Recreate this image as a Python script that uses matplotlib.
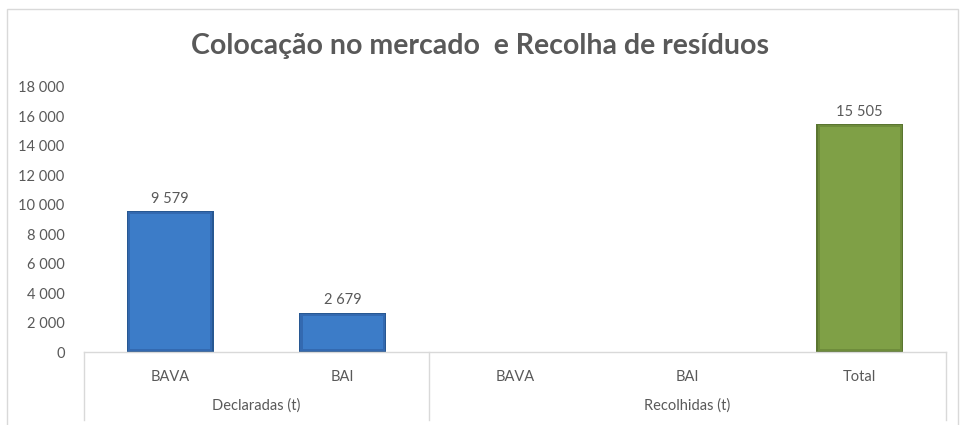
import numpy as np
import matplotlib
matplotlib.use("Agg")
import matplotlib.pyplot as plt
import matplotlib.transforms as mtransforms
from matplotlib.patches import Rectangle
from matplotlib.lines import Line2D

# ---- data ----
title = "Colocação no mercado  e Recolha de resíduos"
categories = ["BAVA", "BAI", "BAVA", "BAI", "Total"]
groups = ["Declaradas (t)", "Recolhidas (t)"]
group_sizes = [2, 3]
values = [9579, 2679, np.nan, np.nan, 15505]
bar_colors = ["#3C7CC8", "#3C7CC8", None, None, "#7FA046"]
mid_colors = ["#3369B0", "#3369B0", None, None, "#6E8C3B"]
edge_colors = ["#285892", "#285892", None, None, "#5A7530"]
yticks = [0, 2000, 4000, 6000, 8000, 10000, 12000, 14000, 16000, 18000]

plt.rcParams['font.family'] = ['Lato', 'DejaVu Sans']
TXT = "#595959"

W, H = 960, 425
fig = plt.figure(figsize=(W / 100, H / 100), dpi=100)
fig.patch.set_facecolor("white")

# outer chart border
fig.add_artist(Rectangle((7 / W, -0.01), (958 - 7) / W, 1 - 9 / H + 0.01,
                         transform=fig.transFigure, fill=False,
                         edgecolor="#D9D9D9", linewidth=1.0))

ax_l, ax_r = 84 / W, 946 / W
ax_b, ax_t = 1 - 352 / H, 1 - 87 / H
ax = fig.add_axes([ax_l, ax_b, ax_r - ax_l, ax_t - ax_b])
ax.set_xlim(-0.5, len(categories) - 0.5)
ax.set_ylim(0, 18000)
for s in ["left", "right", "top"]:
    ax.spines[s].set_visible(False)
ax.spines["bottom"].set_color("#D9D9D9")
ax.spines["bottom"].set_linewidth(1.0)
ax.spines["bottom"].set_zorder(5)
ax.set_xticks([])
ax.set_yticks(yticks)
ax.set_yticklabels([f"{v:,}".replace(",", " ") for v in yticks],
                   fontsize=10.5, color=TXT)
ax.tick_params(axis="y", length=0, pad=14)

x = np.arange(len(categories))
bw = 0.505
for i, v in enumerate(values):
    if np.isnan(v):
        continue
    # base (darker edges)
    ax.bar(x[i], v, width=bw, color=edge_colors[i], zorder=2)
    # intermediate layer
    ix, iy = 0.008, 18000 * 0.004
    ax.bar(x[i], v - 2 * iy, bottom=iy, width=bw - 2 * ix,
           color=mid_colors[i], zorder=3)
    # inner lighter face (bevel effect)
    ix, iy = 0.02, 18000 * 0.012
    ax.bar(x[i], v - 2 * iy, bottom=iy, width=bw - 2 * ix,
           color=bar_colors[i], zorder=4)
    ax.text(x[i], v + 350, f"{int(v):,}".replace(",", " "),
            ha="center", va="bottom", fontsize=10.5, color=TXT)

# category labels (two levels)
blend = mtransforms.blended_transform_factory(ax.transData, fig.transFigure)
for i, c in enumerate(categories):
    ax.text(x[i], 1 - 377 / H, c, transform=blend, ha="center", va="center",
            fontsize=10.5, color=TXT)
start = 0
seps = [-0.5]
for g, n in zip(groups, group_sizes):
    center = start + (n - 1) / 2
    ax.text(center, 1 - 406 / H, g, transform=blend, ha="center", va="center",
            fontsize=10.5, color=TXT)
    start += n
    seps.append(start - 0.5)
for sx in seps:
    fig.add_artist(Line2D([sx, sx], [1 - 352 / H, 1 - 420 / H], transform=blend,
                          color="#D9D9D9", linewidth=1.0))

fig.text(0.5, 1 - 46 / H, title, ha="center", va="center",
         fontsize=20.5, fontweight="bold", color=TXT)

fig.savefig("out.png", dpi=100)
